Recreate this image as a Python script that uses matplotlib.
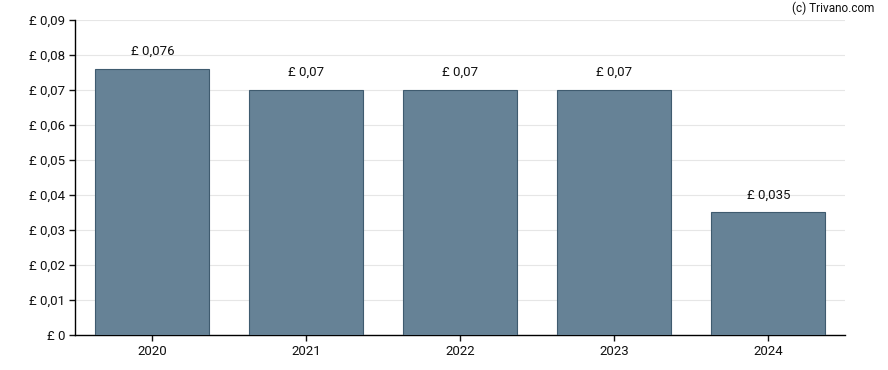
import matplotlib.pyplot as plt
from matplotlib.ticker import FuncFormatter

plt.rcParams["font.family"] = ["Roboto", "DejaVu Sans"]

# data
years = ["2020", "2021", "2022", "2023", "2024"]
dividends = [0.076, 0.07, 0.07, 0.07, 0.035]
bar_labels = ["£ 0,076", "£ 0,07", "£ 0,07", "£ 0,07", "£ 0,035"]

fig = plt.figure(figsize=(8.88, 3.70), dpi=100)
ax = fig.add_axes([0.085, 0.0946, 0.867, 0.8514])

x = range(len(years))
ax.bar(x, dividends, width=0.74, color="#668296", edgecolor="#3f5b6f",
       linewidth=0.8, zorder=3)

for xi, v, lab in zip(x, dividends, bar_labels):
    ax.annotate(lab, (xi, v), xytext=(0, 8), textcoords="offset points",
                ha="center", va="bottom", fontsize=9.5, color="#111111")

ax.set_xlim(-0.5, len(years) - 0.5)
ax.set_ylim(0, 0.09)
ax.set_yticks([i * 0.01 for i in range(10)])
ax.yaxis.set_major_formatter(FuncFormatter(
    lambda v, p: "£ 0" if abs(v) < 1e-9 else "£ " + ("%.2f" % v).replace(".", ",")))
ax.set_xticks(list(x))
ax.set_xticklabels(years)

ax.grid(axis="y", color="#e6e6e6", linewidth=0.8, zorder=0)
ax.spines["top"].set_visible(False)
ax.spines["right"].set_visible(False)
ax.spines["left"].set_linewidth(1.0)
ax.spines["bottom"].set_linewidth(1.0)
ax.tick_params(axis="both", labelsize=9.5, length=4, width=1, colors="#111111")

fig.text(0.985, 0.978, "(c) Trivano.com", ha="right", va="center",
         fontsize=8.5, color="#111111")

fig.savefig("out.png", dpi=100)
